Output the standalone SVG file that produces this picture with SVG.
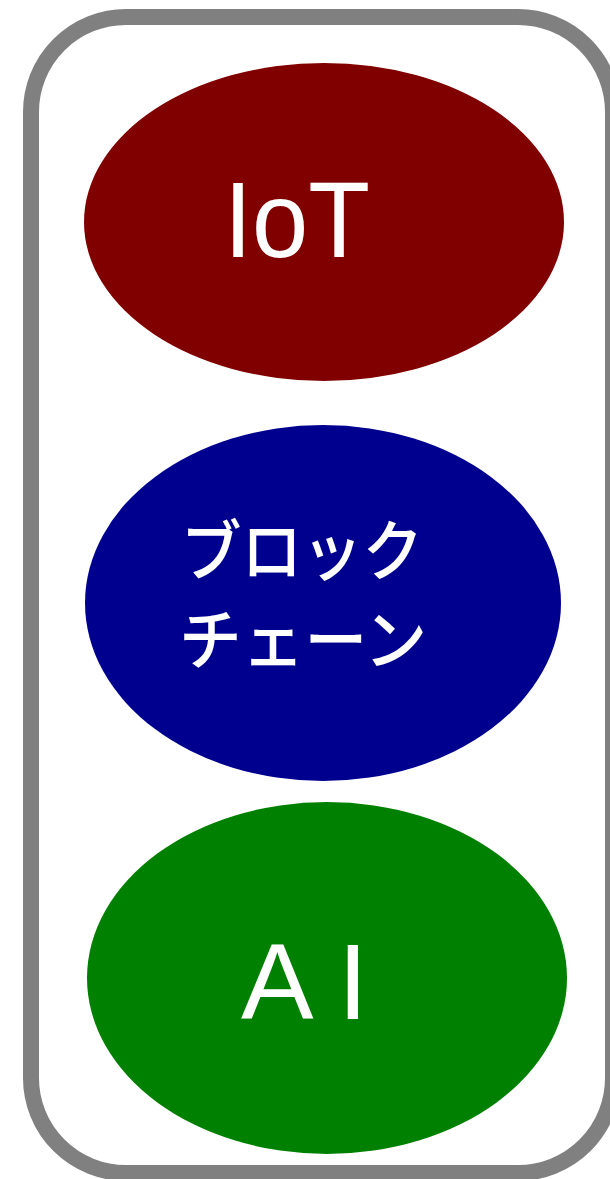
<svg xmlns="http://www.w3.org/2000/svg" width="610" height="1179" viewBox="0 0 610 1179">
<style>
.frame{fill:#ffffff;stroke:#808080;stroke-width:16}
.lbl{fill:#ffffff;font-family:"Liberation Sans",Arial,sans-serif;font-size:107px}
.jp{fill:#ffffff;font-family:"Noto Sans CJK JP","Noto Sans",sans-serif;font-size:66px;font-weight:500}
</style>
<g id="frame"><rect class="frame" x="31" y="17" width="582" height="1156" rx="95" ry="95"/></g>
<g id="connectors"></g>
<g id="iot">
<ellipse cx="324" cy="222" rx="240" ry="159" fill="#800000"/>
<text class="lbl" x="224" y="257" textLength="146" lengthAdjust="spacingAndGlyphs">IoT</text>
</g>
<g id="blockchain">
<ellipse cx="323" cy="603" rx="238" ry="178" fill="#00008f"/>
<text class="jp" x="181" y="575" textLength="242" lengthAdjust="spacingAndGlyphs">ブロック</text>
<text class="jp" x="179" y="664" textLength="248" lengthAdjust="spacingAndGlyphs">チェーン</text>
</g>
<g id="ai">
<ellipse cx="327" cy="978" rx="240" ry="176" fill="#008000"/>
<text class="lbl" x="241" y="1019" textLength="127" lengthAdjust="spacingAndGlyphs">A I</text>
</g>
</svg>
